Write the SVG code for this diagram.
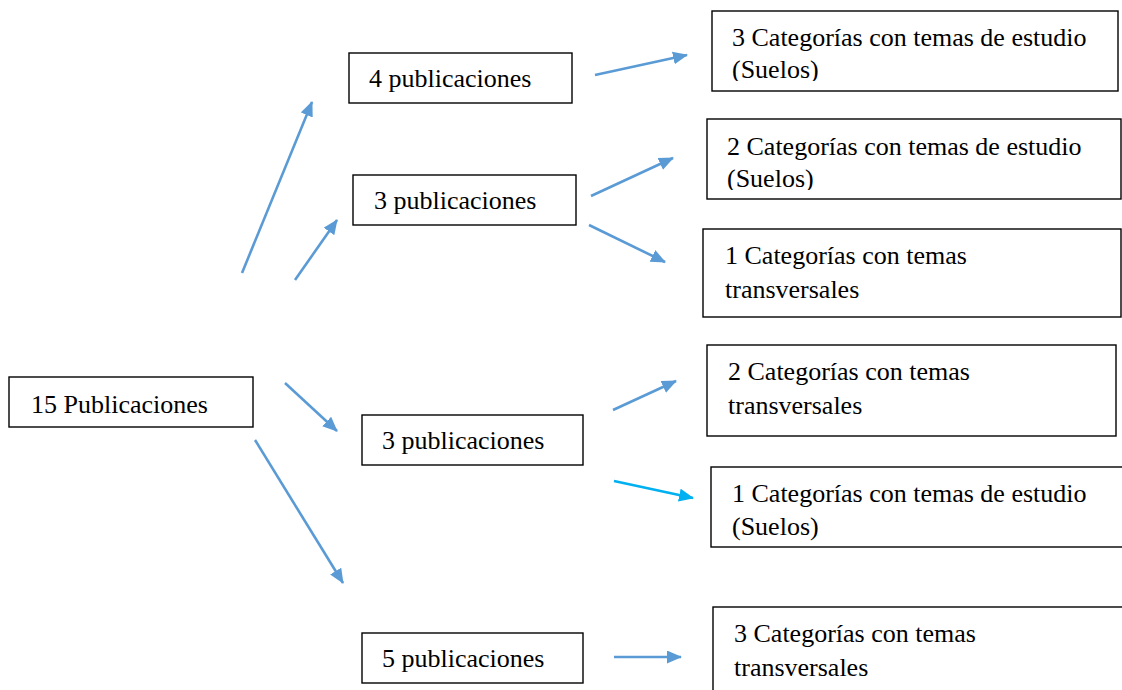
<svg xmlns="http://www.w3.org/2000/svg" width="1122" height="690" viewBox="0 0 1122 690">
<style>
.box{fill:#fff;stroke:#000;stroke-width:1.4}
.t{font-family:"Liberation Serif","Times New Roman",serif;font-size:26px;fill:#000}
.c{stroke:#5B9BD5;stroke-width:2.6;fill:none;marker-end:url(#ah)}
.c2{stroke:#00B0F0;stroke-width:2.6;fill:none;marker-end:url(#ah2)}
</style>
<defs>
<marker id="ah" markerUnits="userSpaceOnUse" markerWidth="16" markerHeight="14" refX="14" refY="6.5" orient="auto"><path d="M0,0 L15,6.5 L0,13 z" fill="#5B9BD5"/></marker>
<marker id="ah2" markerUnits="userSpaceOnUse" markerWidth="16" markerHeight="14" refX="14" refY="6.5" orient="auto"><path d="M0,0 L15,6.5 L0,13 z" fill="#00B0F0"/></marker>
<clipPath id="cl1"><rect x="712" y="11" width="406" height="70"/></clipPath>
<clipPath id="cl2"><rect x="707" y="119" width="415" height="71"/></clipPath>
<clipPath id="cl5"><rect x="711" y="467" width="420" height="74"/></clipPath>
</defs>
<rect width="1122" height="690" fill="#fff"/>
<g id="connectors">
<line class="c" x1="242" y1="273" x2="312" y2="102"/>
<line class="c" x1="295" y1="280" x2="337" y2="220"/>
<line class="c" x1="285" y1="383" x2="337" y2="431"/>
<line class="c" x1="255" y1="440" x2="343" y2="583"/>
<line class="c" x1="595" y1="75" x2="687" y2="55"/>
<line class="c" x1="591" y1="196" x2="673" y2="158"/>
<line class="c" x1="589" y1="225" x2="665" y2="262"/>
<line class="c" x1="613" y1="410" x2="676" y2="381"/>
<line class="c2" x1="614" y1="481" x2="693" y2="498"/>
<line class="c" x1="614" y1="657" x2="681" y2="657"/>
</g>
<g id="n15">
<rect class="box" x="9" y="377" width="244" height="50"/>
<text class="t" x="31" y="413">15 Publicaciones</text>
</g>
<g id="p4">
<rect class="box" x="349" y="53" width="223" height="50"/>
<text class="t" x="369" y="87">4 publicaciones</text>
</g>
<g id="p3a">
<rect class="box" x="353" y="175" width="223" height="50"/>
<text class="t" x="374" y="209">3 publicaciones</text>
</g>
<g id="p3b">
<rect class="box" x="362" y="415" width="221" height="50"/>
<text class="t" x="382" y="449">3 publicaciones</text>
</g>
<g id="p5">
<rect class="box" x="362" y="633" width="221" height="50"/>
<text class="t" x="382" y="667">5 publicaciones</text>
</g>
<g id="c1">
<rect class="box" x="712" y="11" width="406" height="80"/>
<g clip-path="url(#cl1)">
<text class="t" x="732" y="46">3 Categorías con temas de estudio</text>
<text class="t" x="732" y="78">(Suelos)</text>
</g>
</g>
<g id="c2">
<rect class="box" x="707" y="119" width="414" height="80"/>
<g clip-path="url(#cl2)">
<text class="t" x="727" y="155">2 Categorías con temas de estudio</text>
<text class="t" x="727" y="187">(Suelos)</text>
</g>
</g>
<g id="c3">
<rect class="box" x="703" y="229" width="418" height="88"/>
<text class="t" x="725" y="264">1 Categorías con temas</text>
<text class="t" x="725" y="298">transversales</text>
</g>
<g id="c4">
<rect class="box" x="707" y="345" width="409" height="91"/>
<text class="t" x="728" y="380">2 Categorías con temas</text>
<text class="t" x="728" y="414">transversales</text>
</g>
<g id="c5">
<rect class="box" x="711" y="467" width="430" height="80"/>
<g clip-path="url(#cl5)">
<text class="t" x="732" y="502">1 Categorías con temas de estudio</text>
<text class="t" x="732" y="535">(Suelos)</text>
</g>
</g>
<g id="c6">
<rect class="box" x="713" y="607" width="430" height="100"/>
<text class="t" x="734" y="642">3 Categorías con temas</text>
<text class="t" x="734" y="676">transversales</text>
</g>
</svg>
